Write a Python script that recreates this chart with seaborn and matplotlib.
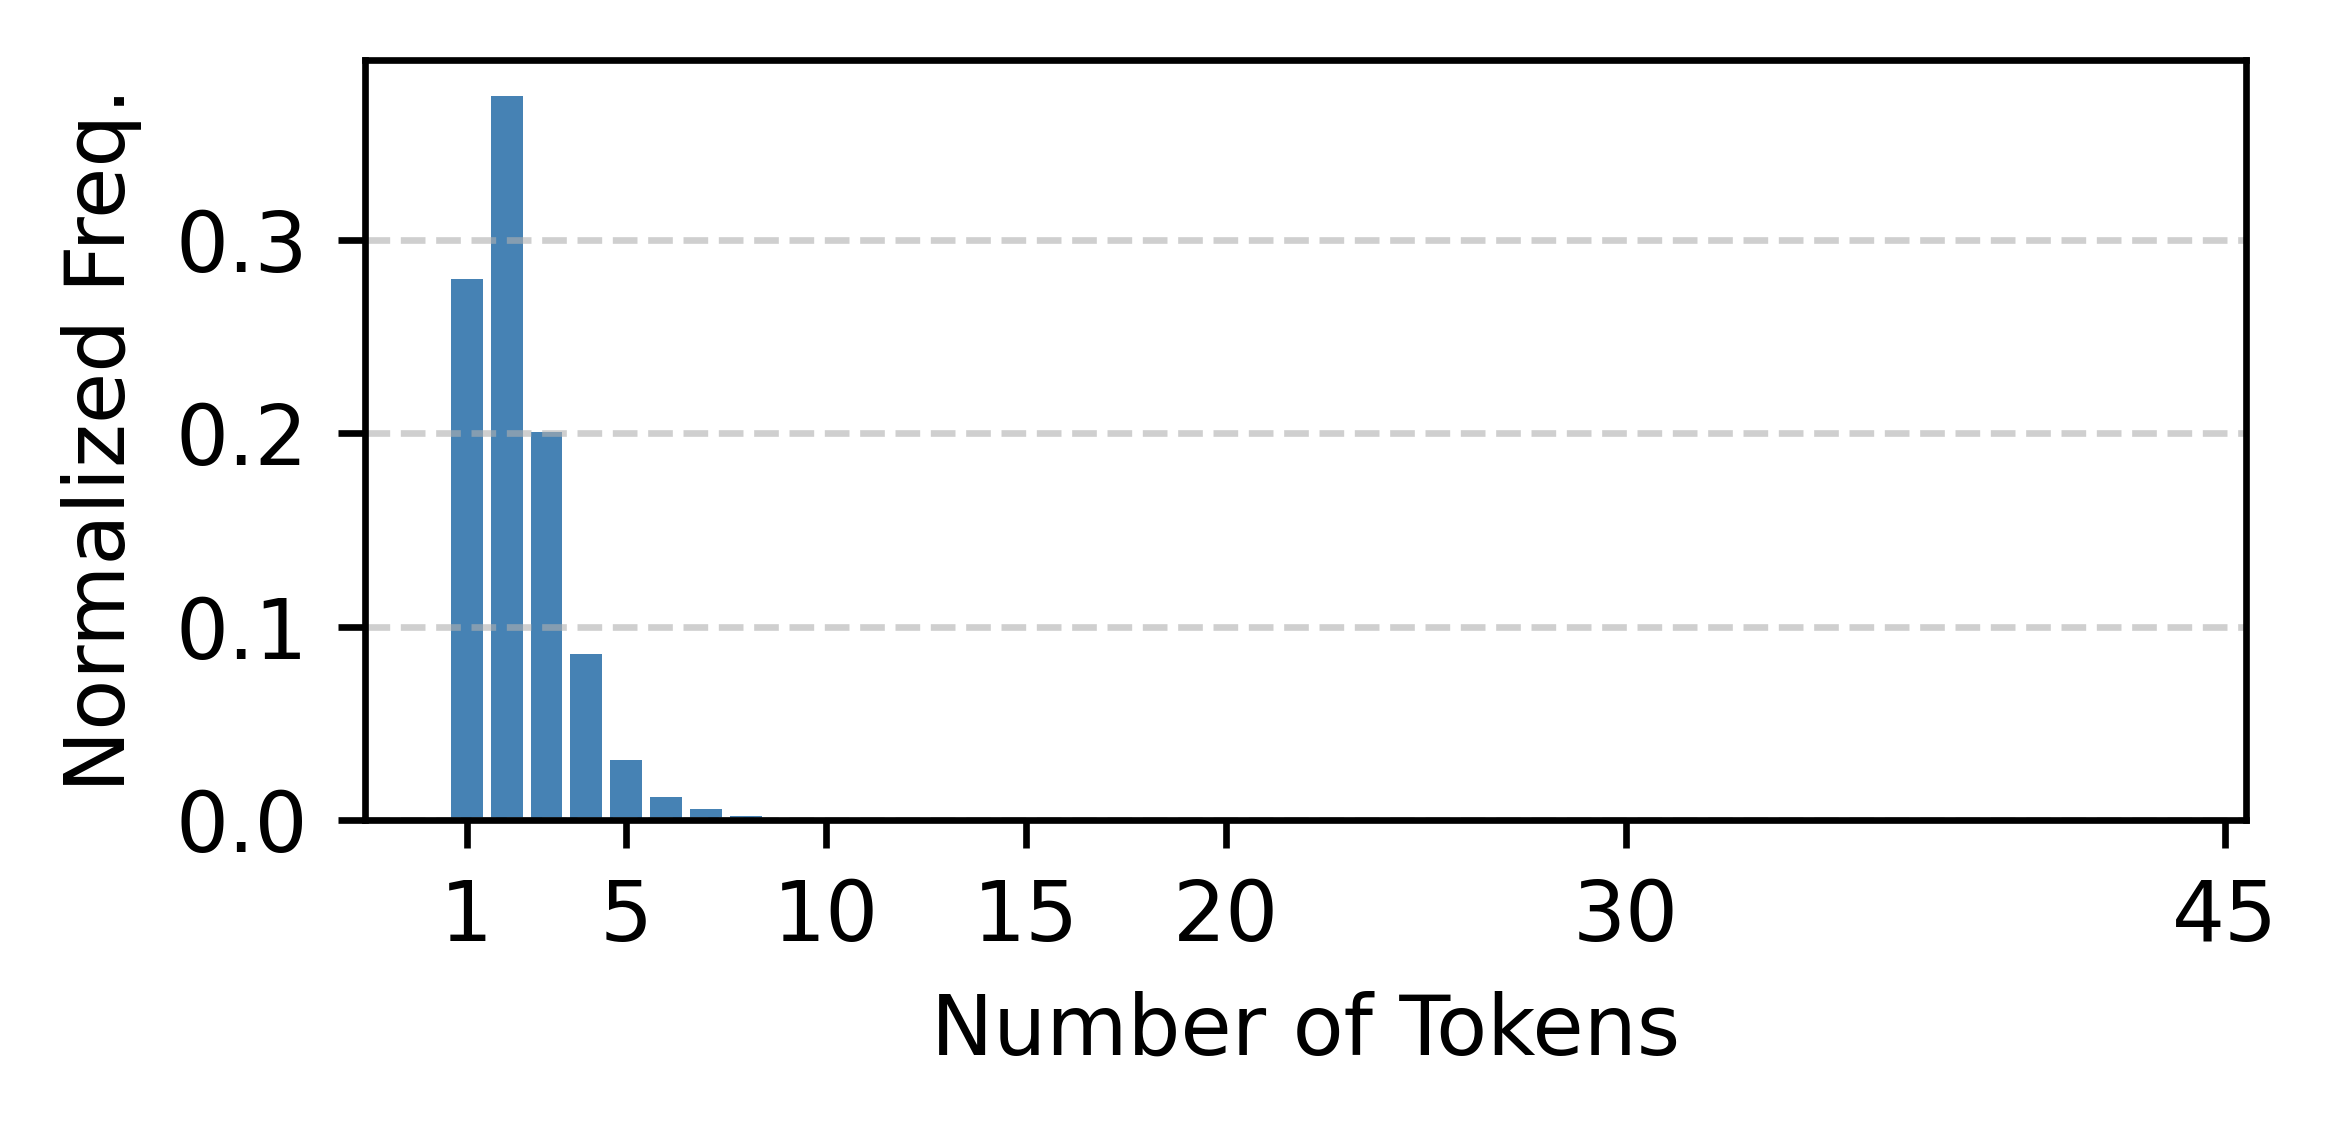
import matplotlib
matplotlib.use('Agg')
import matplotlib.pyplot as plt
import seaborn as sns
import pandas as pd

plt.rcParams['font.family'] = ['DejaVu Sans']
plt.rcParams['font.size'] = 10

# token count -> normalized frequency
num_tokens = list(range(1, 44))
norm_freq = [0.2797, 0.3741, 0.2004, 0.0859, 0.0309, 0.0119, 0.0056, 0.0023,
             0.0006, 0.0003, 0.0002, 0.0001, 0.0001, 0.0001, 0.00005, 0.00005,
             0.00004, 0.00003, 0.00003, 0.00002, 0.00002, 0.00002, 0.00001,
             0.00001, 0.00001, 0.00001, 0.00001, 0.00001, 0.00001, 0.00001,
             0.00001, 0.00001, 0.00001, 0.00001, 0.00001, 0.00001, 0.00001,
             0.00001, 0.00001, 0.00001, 0.00001, 0.00001, 0.00001]
xtick_vals = [1, 5, 10, 15, 20, 30, 45]

df = pd.DataFrame({'tokens': num_tokens, 'freq': norm_freq})

fig = plt.figure(figsize=(2337 / 600, 1134 / 600), dpi=600)
ax = fig.add_axes([0.1562, 0.2769, 0.8049, 0.6702])

sns.barplot(data=df, x='tokens', y='freq', native_scale=True, color='steelblue',
            saturation=1, linewidth=0, ax=ax)

ax.set_xlim(-1.54, 45.52)
ax.set_xticks(xtick_vals)
ax.set_xticklabels([str(v) for v in xtick_vals])
ax.set_yticks([0.0, 0.1, 0.2, 0.3])
ax.yaxis.grid(True, linestyle='--', alpha=0.6)
ax.xaxis.grid(False)
ax.tick_params(length=3.3)

ax.set_xlabel('Number of Tokens')
ax.set_ylabel('Normalized Freq.')

fig.savefig('out.png', dpi=600)
plt.close(fig)
